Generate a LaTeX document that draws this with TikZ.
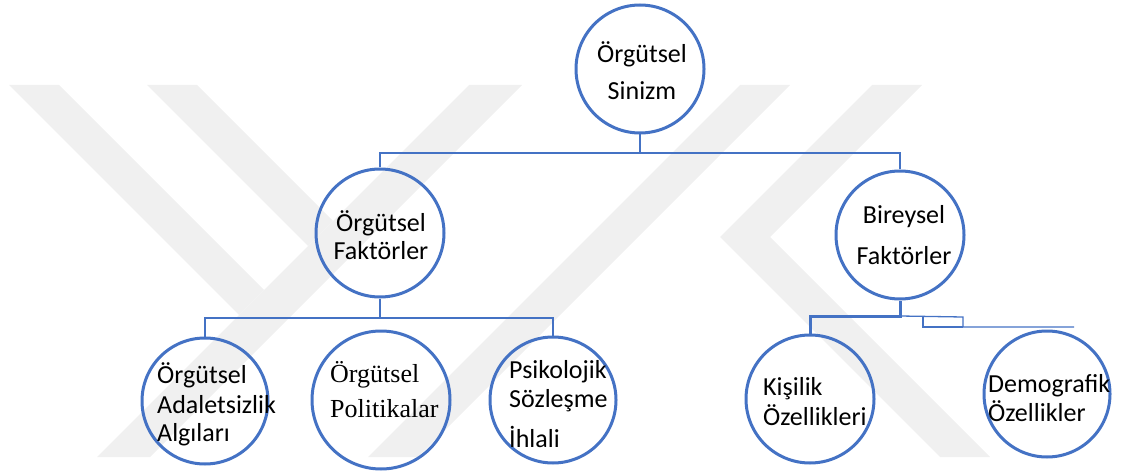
\documentclass[tikz,border=0pt]{standalone}
\usepackage{fontspec}
\setmainfont{Carlito}
\newfontfamily\serifface{Liberation Serif}
\usetikzlibrary{calc}
\definecolor{lineblue}{RGB}{68,114,196}
\definecolor{wmgray}{RGB}{240,240,240}
\tikzset{
  % Daireler
  circ/.style     = {circle, draw=lineblue, line width=3pt, minimum size=128pt, inner sep=0pt},
  % Etiketler (taban = son satır)
  lbl/.style      = {font=\fontsize{26}{28}\selectfont, inner sep=0pt, anchor=base west, align=left},
  lblc/.style     = {lbl, anchor=base, align=center},
  lblserif/.style = {lbl, font=\serifface\fontsize{26}{28}\selectfont},
  % Bağlantı çizgileri
  conn/.style     = {draw=lineblue, line width=2.6pt},
  thinconn/.style = {draw=lineblue, line width=1.3pt},
  % Filigran
  wmark/.style    = {fill=wmgray},
}

\begin{document}
\begin{tikzpicture}[x=1pt, y=-1pt]
  \useasboundingbox (0,0) rectangle (1122,473);
  % Filigran şeritleri
  \fill[wmark] (9,85) -- (59,85) -- (264,290) -- (239,315) -- cycle;
  \fill[wmark] (147,85) -- (197,85) -- (333,221) -- (308,246) -- cycle;
  \fill[wmark] (469,85) -- (522,85) -- (150,457) -- (97,457) -- cycle;
  \fill[wmark] (740,85) -- (790,85) -- (418,457) -- (368,457) -- cycle;
  \fill[wmark] (872,85) -- (922,85) -- (770,237) -- (990,457) -- (940,457) -- (720,237) -- cycle;
  % Daireler
  \node[circ] (root) at (640,69) {};
  \node[circ] (orgfak) at (380,233) {};
  \node[circ] (birfak) at (900,235) {};
  \node[circ, minimum size=126pt] (adalet) at (205,401) {};
  \node[circ, minimum size=138pt] (politik) at (381,400) {};
  \node[circ, minimum size=126pt] (psikol) at (553,400) {};
  \node[circ] (kisilik) at (810,399) {};
  \node[circ, minimum size=126pt] (demog) at (1047,394) {};
  % Etiketler
  \node[lblc] (root-t) at (642,100) {Örgütsel\\[9pt]Sinizm};
  \node[lblc] (orgfak-t) at (381,259.5) {Örgütsel\\Faktörler};
  \node[lblc] (birfak-t) at (904,265) {Bireysel\\[13pt]Faktörler};
  \node[lbl] (adalet-t) at (157,441) {Örgütsel\\[1.5pt]Adaletsizlik\\[0pt]Algıları};
  \node[lblserif] (politik-t) at (330,417) {Örgütsel\\[7pt]Politikalar};
  \node[lbl] (psikol-t) at (509,447) {Psikolojik\\[1pt]Sözleşme\\[12pt]İhlali};
  \node[lbl] (kisilik-t) at (763,425) {Kişilik\\[2pt]Özellikleri};
  \node[lbl] (demog-t) at (988,421) {Demografik\\[0.5pt]Özellikler};
  % Bağlantılar
  \coordinate (bus1) at (0,153);
  \coordinate (bus2) at (0,318);
  \coordinate (bus3) at (0,316);
  \coordinate (stub) at (1074,327);
  \draw[conn] (root.south) -- (root.south |- bus1);
  \draw[conn] (orgfak.north) |- (birfak.north |- bus1) -- (birfak.north);
  \draw[conn] (orgfak.south) -- (orgfak.south |- bus2);
  \draw[conn] (adalet.north) |- (psikol.north |- bus2) -- (psikol.north);
  \draw[conn, line width=3pt] (birfak.south) -- (birfak.south |- bus3) -| (kisilik.north);
  % Sağdaki ince parça
  \draw[thinconn] (birfak.south |- bus3) -- ++(63,1) -- ++(0,10) -- (stub);
  \draw[thinconn] ($(birfak.south |- bus3)+(23,1)$) -- ++(0,10) -- ++(40,0);
\end{tikzpicture}
\end{document}
